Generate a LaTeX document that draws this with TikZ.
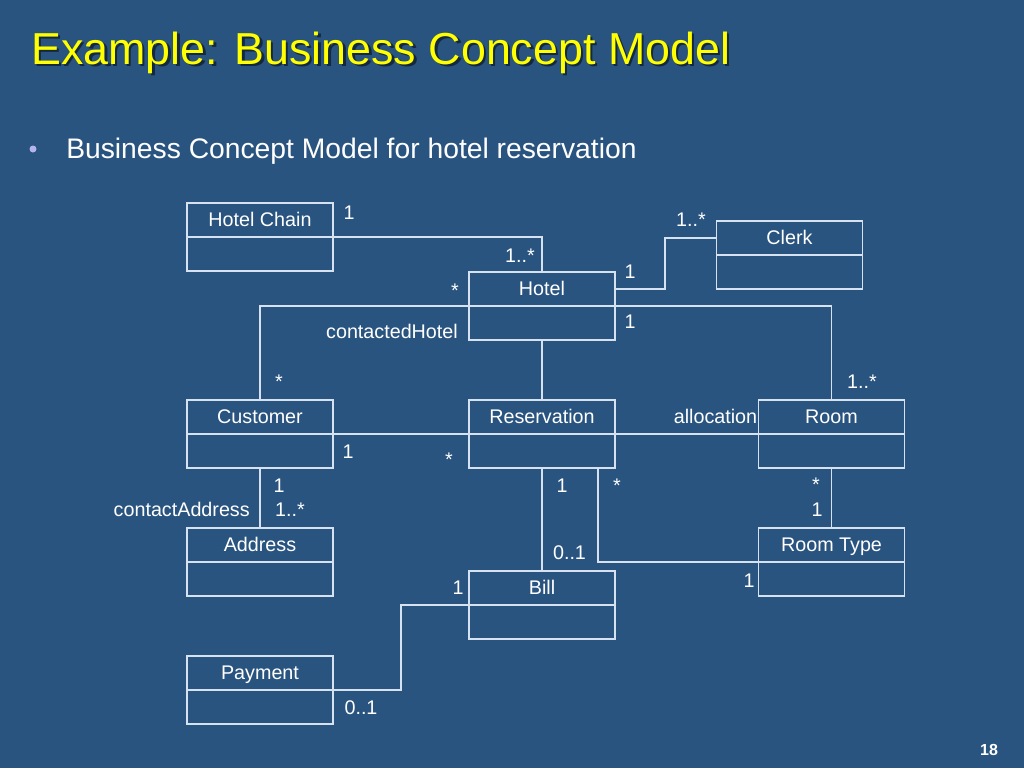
\documentclass[tikz,border=0pt]{standalone}
\usepackage{fontspec}
\setmainfont{Liberation Sans}
\usetikzlibrary{calc}
\definecolor{bgc}{HTML}{2A5480}
\definecolor{linec}{HTML}{D6E2F0}
\definecolor{titlec}{HTML}{FFFF00}
\definecolor{shadowc}{HTML}{142840}
\definecolor{bulletc}{HTML}{B4B4F0}
\newcommand\umlbox[3]{%
  \node[cls] (#1) at (#2) {};
  \draw[conn] (#1.west) -- (#1.east);
  \node[ttl] (#1-t) at ($(#1.center)+(0,-11)$) {#3};}
\newcommand\shadowtext[1]{\rlap{\hspace{1.9pt}\raisebox{-1.9pt}{\textcolor{shadowc}{#1}}}\textcolor{titlec}{#1}}
\begin{document}
\begin{tikzpicture}[x=0.75pt,y=-0.75pt,
  cls/.style={draw=linec, line width=1pt, minimum width=109.5pt, minimum height=51pt, inner sep=0pt, outer sep=0pt},
  conn/.style={draw=linec, line width=1pt},
  ttl/.style={anchor=base, text=white, inner sep=0pt, font=\fontsize{14.8}{17}\selectfont},
  lbl/.style={anchor=base, text=white, inner sep=0pt, font=\fontsize{14.8}{17}\selectfont},
  lble/.style={lbl, anchor=base east}]
\fill[bgc] (0,0) rectangle (1024,768);
\useasboundingbox (0,0) rectangle (1024,768);

% title
\node[anchor=base west, inner sep=0pt, font=\fontsize{33.6}{38}\selectfont] (title) at (31,64) {\shadowtext{Example: Business Concept Model}};
% bullet
\fill[bulletc] (33,149) circle (3.5);
\node[anchor=base west, inner sep=0pt, text=white, font=\fontsize{21.2}{25}\selectfont] (sub) at (66,158) {Business Concept Model for hotel reservation};
% page number
\node[anchor=base, inner sep=0pt, text=white, font=\fontsize{12}{14}\selectfont\bfseries] (pg) at (989,755) {18};

% classes
\umlbox{hc}{260,237}{Hotel Chain}
\umlbox{hotel}{542,306}{Hotel}
\umlbox{clerk}{789.5,255}{Clerk}
\umlbox{cust}{260,434}{Customer}
\umlbox{res}{542,434}{Reservation}
\umlbox{room}{831.5,434}{Room}
\umlbox{addr}{260,562}{Address}
\umlbox{rt}{831.5,562}{Room Type}
\umlbox{bill}{542,605}{Bill}
\umlbox{pay}{260,690}{Payment}

% connectors
\draw[conn] (hc.east) -| (hotel.north);
\draw[conn] ($(hotel.east)+(0,-17)$) -- ++(50,0) |- ($(clerk.west)+(0,-17)$);
\draw[conn] (hotel.south) -- (res.north);
\draw[conn] (cust.north) |- (hotel.center) -| (room.north);
\draw[conn] (cust.east) -- (res.west);
\draw[conn] (res.east) -- (room.west);
\draw[conn] (cust.south) -- (addr.north);
\draw[conn] (res.south) -- (bill.north);
\draw[conn] ($(res.south east)+(-17,0)$) |- (rt.west);
\draw[conn] (room.south) -- (rt.north);
\draw[conn] (pay.east) -- ++(68,0) |- (bill.west);

% multiplicities and role names
\node[lbl] (m1) at (349,219) {1};
\node[lbl] (m2) at (520,262) {1..*};
\node[lbl] (m3) at (455,297) {*};
\node[lbl] (m4) at (630,278) {1};
\node[lbl] (m5) at (630,328) {1};
\node[lbl] (r1) at (392,338) {contactedHotel};
\node[lbl] (m6) at (691,226) {1..*};
\node[lbl] (m7) at (279,388) {*};
\node[lbl] (m8) at (862,388) {1..*};
\node[lbl] (r2) at (715.5,423) {allocation};
\node[lbl] (m9) at (348,458) {1};
\node[lbl] (m10) at (449,466) {*};
\node[lbl] (m11) at (279,492) {1};
\node[lbl] (m12) at (290,516) {1..*};
\node[lble] (r3) at (250,516) {contactAddress};
\node[lbl] (m13) at (562,492) {1};
\node[lbl] (m14) at (617,492) {*};
\node[lbl] (m15) at (816,491) {*};
\node[lbl] (m16) at (817,516) {1};
\node[lbl] (m17) at (569.5,559) {0..1};
\node[lbl] (m18) at (749,587) {1};
\node[lbl] (m19) at (458,594) {1};
\node[lbl] (m20) at (361,714) {0..1};
\end{tikzpicture}
\end{document}
